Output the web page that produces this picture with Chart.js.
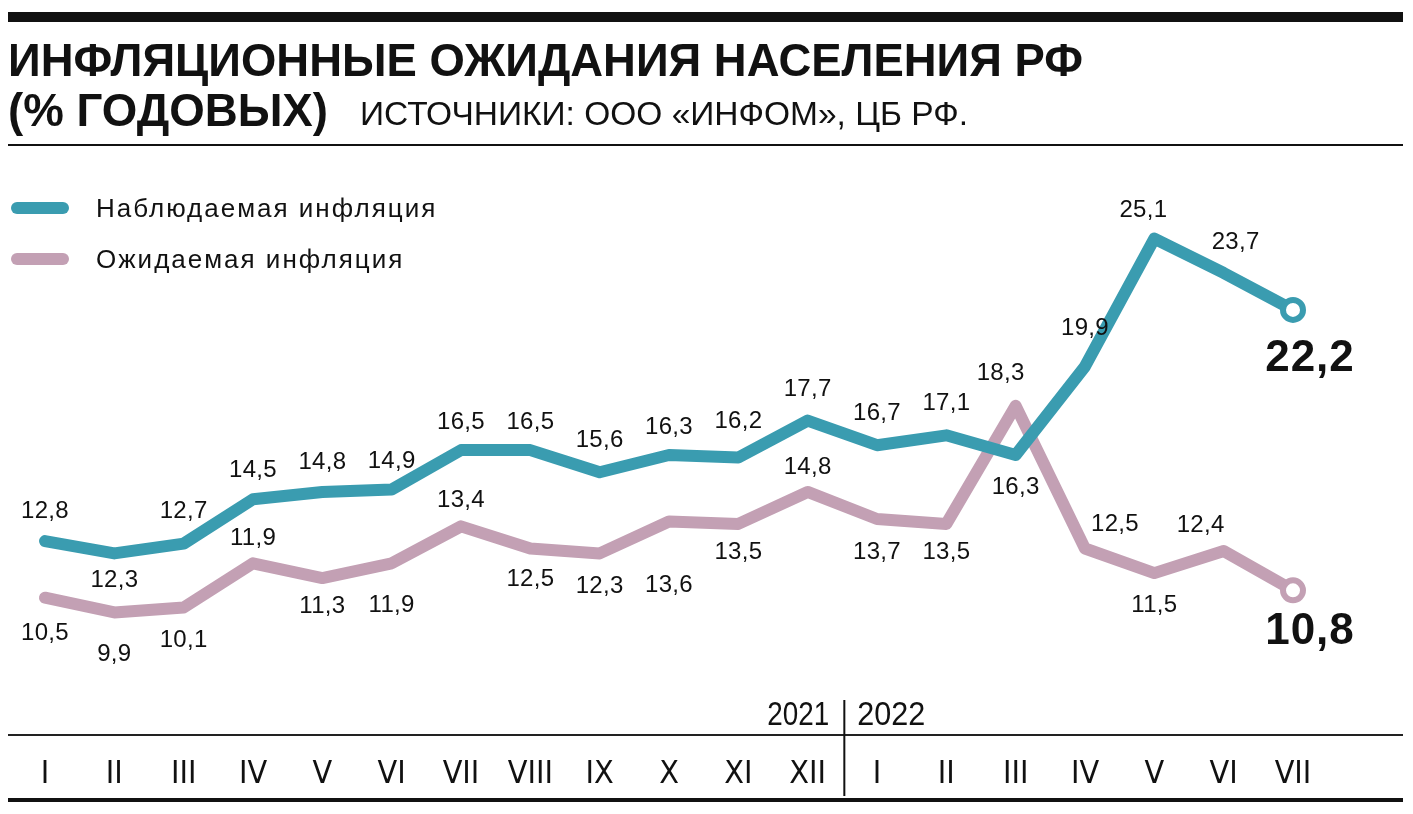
<!DOCTYPE html>
<html>
<head>
<meta charset="utf-8">
<script src="https://cdn.jsdelivr.net/npm/chart.js@4.4.1/dist/chart.umd.min.js"></script>
<style>
html,body{margin:0;padding:0;background:#fff;}
canvas{display:block;}
</style>
</head>
<body>
<canvas id="c" width="1413" height="814"></canvas>
<script>
// data
const months = ['I','II','III','IV','V','VI','VII','VIII','IX','X','XI','XII','I','II','III','IV','V','VI','VII'];
const observed = [12.8,12.3,12.7,14.5,14.8,14.9,16.5,16.5,15.6,16.3,16.2,17.7,16.7,17.1,16.3,19.9,25.1,23.7,22.2];
const expected = [10.5,9.9,10.1,11.9,11.3,11.9,13.4,12.5,12.3,13.6,13.5,14.8,13.7,13.5,18.3,12.5,11.5,12.4,10.8];
const years = ['2021','2022'];
const seriesNames = ['Наблюдаемая инфляция','Ожидаемая инфляция'];

const TEAL = '#3a9cb0';
const PINK = '#c3a0b4';
const NARROW = '"DejaVu Sans Condensed", "Liberation Sans", sans-serif';

// label placement: [dx, dy] from point
const obsPos = [[0,-30],[0,27],[0,-32],[0,-29],[0,-30],[0,-28],[0,-28],[0,-28],[0,-32],[0,-28],[0,-36],[0,-31],[0,-32],[0,-32],[0,32],[0,-38],[-11,-28],[12,-31],[17,49]];
const expPos = [[0,36],[0,42],[0,33],[0,-25],[0,28],[0,42],[0,-26],[0,31],[0,33],[0,64],[0,28],[0,-25],[0,33],[0,28],[-15,-32],[30,-24],[0,32],[-23,-26],[17,42]];

const fmt = v => v.toFixed(1).replace('.', ',');
const lastOnly = (arr, a, b) => arr.map((_, i) => i === arr.length - 1 ? a : b);

// squeeze text horizontally into a given width (no condensed font available)
function fitText(ctx, text, x, y, w) {
  const m = ctx.measureText(text).width;
  ctx.save();
  ctx.translate(x, y);
  ctx.scale(w / m, 1);
  ctx.fillText(text, 0, 0);
  ctx.restore();
}

const decor = {
  id: 'decor',
  beforeDraw(chart) {
    const ctx = chart.ctx;
    ctx.save();
    ctx.fillStyle = '#fff';
    ctx.fillRect(0, 0, chart.width, chart.height);
    // top bar
    ctx.fillStyle = '#111';
    ctx.fillRect(8, 12, 1395, 10);
    // title
    ctx.textBaseline = 'alphabetic';
    ctx.fillStyle = '#111';
    ctx.font = 'bold 47px "Liberation Sans", sans-serif';
    fitText(ctx, 'ИНФЛЯЦИОННЫЕ ОЖИДАНИЯ НАСЕЛЕНИЯ РФ', 8, 76, 1075);
    fitText(ctx, '(% ГОДОВЫХ)', 8, 126, 320);
    ctx.font = '34px "Liberation Sans", sans-serif';
    fitText(ctx, 'ИСТОЧНИКИ: ООО «ИНФОМ», ЦБ РФ.', 360, 125, 608);
    ctx.fillRect(8, 144, 1395, 2);

    // legend
    const cols = [TEAL, PINK];
    ctx.lineCap = 'round';
    ctx.lineWidth = 12;
    ctx.font = '26px "Liberation Sans", sans-serif';
    ctx.letterSpacing = '2px';
    ctx.textBaseline = 'middle';
    seriesNames.forEach((n, i) => {
      const y = 208 + i * 51;
      ctx.strokeStyle = cols[i];
      ctx.beginPath(); ctx.moveTo(17, y); ctx.lineTo(63, y); ctx.stroke();
      ctx.fillStyle = '#111';
      ctx.fillText(n, 96, y + 2);
    });
    ctx.letterSpacing = '0px';

    // axis lines
    const x = chart.scales.x;
    ctx.fillStyle = '#222';
    ctx.fillRect(8, 734, 1395, 2);
    ctx.fillStyle = '#111';
    ctx.fillRect(8, 798, 1395, 4);
    const sep = (x.getPixelForValue(11) + x.getPixelForValue(12)) / 2 + 2;
    ctx.fillRect(sep - 1, 700, 2, 96);
    ctx.font = '34px "Liberation Sans", sans-serif';
    ctx.textBaseline = 'alphabetic';
    fitText(ctx, years[0], sep - 77, 725, 62);
    fitText(ctx, years[1], sep + 13, 725, 68);
    ctx.restore();
  },
  afterDraw(chart) {
    const ctx = chart.ctx;
    ctx.save();
    ctx.textAlign = 'center';
    ctx.textBaseline = 'middle';
    ctx.fillStyle = '#111';
    [[0, observed, obsPos], [1, expected, expPos]].forEach(([di, vals, pos]) => {
      const pts = chart.getDatasetMeta(di).data;
      vals.forEach((v, i) => {
        const last = i === vals.length - 1;
        ctx.font = last ? 'bold 44px "Liberation Sans", sans-serif' : '24px "Liberation Sans", sans-serif';
        ctx.letterSpacing = last ? '1px' : '0.3px';
        ctx.fillText(fmt(v), pts[i].x + pos[i][0], pts[i].y + pos[i][1]);
      });
    });
    ctx.restore();
  }
};

new Chart(document.getElementById('c'), {
  type: 'line',
  data: {
    labels: months,
    datasets: [
      {
        label: seriesNames[0], data: observed,
        borderColor: TEAL, borderWidth: 12, borderJoinStyle: 'round', borderCapStyle: 'round',
        pointRadius: lastOnly(observed, 10, 0), pointBorderWidth: 6,
        pointBackgroundColor: '#fff', pointBorderColor: TEAL, tension: 0
      },
      {
        label: seriesNames[1], data: expected,
        borderColor: PINK, borderWidth: 12, borderJoinStyle: 'round', borderCapStyle: 'round',
        pointRadius: lastOnly(expected, 10, 0), pointBorderWidth: 6,
        pointBackgroundColor: '#fff', pointBorderColor: PINK, tension: 0
      }
    ]
  },
  options: {
    responsive: false,
    animation: false,
    layout: { padding: { left: 45, right: 120, top: 150, bottom: 0 } },
    plugins: { legend: { display: false }, tooltip: { enabled: false } },
    scales: {
      x: {
        offset: false,
        grid: { display: false, drawTicks: false },
        border: { display: false },
        ticks: {
          color: '#111', padding: 22, autoSkip: false, maxRotation: 0,
          font: { family: NARROW, size: 32 }
        },
        afterFit: s => { s.height = 81; }
      },
      y: { display: false, min: 5, max: 28.7 }
    }
  },
  plugins: [decor]
});
</script>
</body>
</html>
